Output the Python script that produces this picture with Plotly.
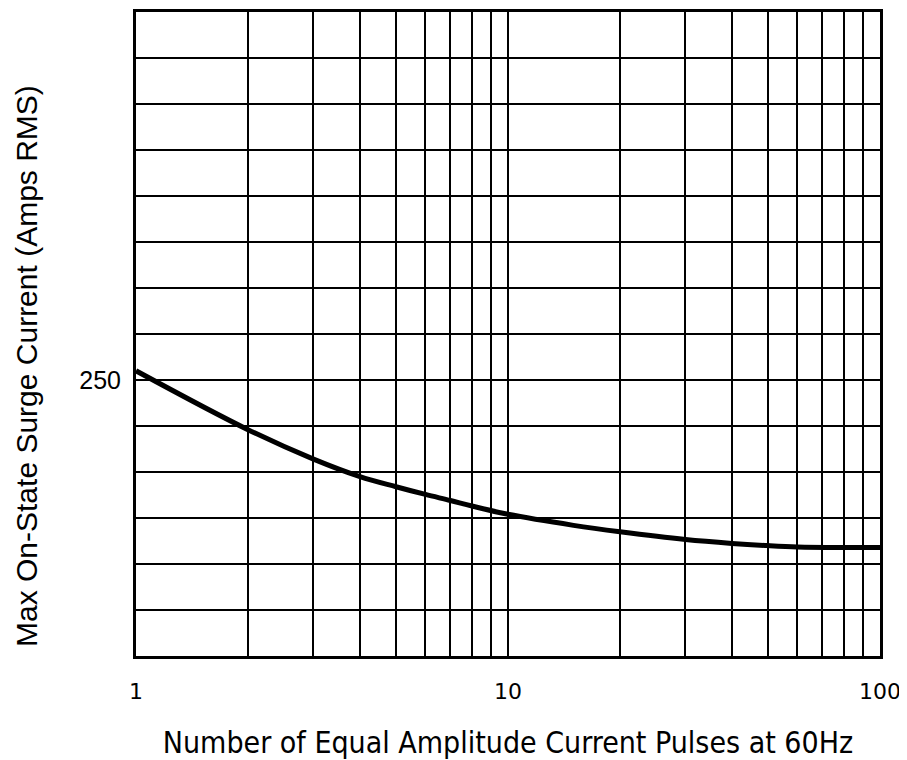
import plotly.graph_objects as go

# Data
pulses = [1, 2, 3, 4, 5, 6, 7, 8, 10, 15, 20, 30, 40, 50, 60, 80, 100]
surge_current = [255, 223, 207, 197.5, 192, 187.8, 184.5, 181.5, 177, 171, 167.5, 163.3, 161.2, 160, 159.3, 159, 159]

x_grid_vals = [1, 2, 3, 4, 5, 6, 7, 8, 9, 10, 20, 30, 40, 50, 60, 70, 80, 90, 100]
x_grid_text = ["1", "", "", "", "", "", "", "", "", "10", "", "", "", "", "", "", "", "", "100"]
y_grid_vals = [100, 125, 150, 175, 200, 225, 250, 275, 300, 325, 350, 375, 400, 425, 450]
y_grid_text = ["", "", "", "", "", "", "250", "", "", "", "", "", "", "", ""]

x_title = "Number of Equal Amplitude Current Pulses at 60Hz"
y_title = "Max On-State Surge Current (Amps RMS)"

fig = go.Figure()
fig.add_trace(go.Scatter(
    x=pulses, y=surge_current, mode="lines",
    line=dict(color="black", width=5, shape="spline", smoothing=1.0),
    showlegend=False, hoverinfo="skip",
))

fig.update_layout(
    width=899, height=752,
    margin=dict(l=128, r=27, t=1, b=104),
    paper_bgcolor="white", plot_bgcolor="white",
    font=dict(family="Liberation Sans, Arial, sans-serif", color="black"),
)

fig.update_xaxes(
    type="log", range=[0, 2],
    tickmode="array", tickvals=x_grid_vals, ticktext=x_grid_text,
    showgrid=True, gridcolor="black", gridwidth=2,
    showline=True, linecolor="black", linewidth=3, mirror=True,
    ticks="", ticklabelstandoff=14,
    tickfont=dict(size=22, family="DejaVu Sans, sans-serif"),
    title=dict(text=x_title, standoff=30,
               font=dict(size=30, family="DejaVu Sans Condensed, DejaVu Sans, sans-serif")),
    zeroline=False,
)
fig.update_yaxes(
    range=[100, 450],
    tickmode="array", tickvals=y_grid_vals, ticktext=y_grid_text,
    showgrid=True, gridcolor="black", gridwidth=2,
    showline=True, linecolor="black", linewidth=3, mirror=True,
    ticks="", ticklabelstandoff=7,
    tickfont=dict(size=25, family="Liberation Sans, Arial, sans-serif"),
    zeroline=False,
)

fig.add_annotation(
    text=y_title, textangle=-90, showarrow=False,
    xref="paper", yref="paper", x=0, y=0.5,
    xanchor="center", yanchor="middle",
    xshift=-110, yshift=-32,
    font=dict(size=30, family="Liberation Sans, Arial, sans-serif", color="black"),
)

fig.write_html("out.html")
